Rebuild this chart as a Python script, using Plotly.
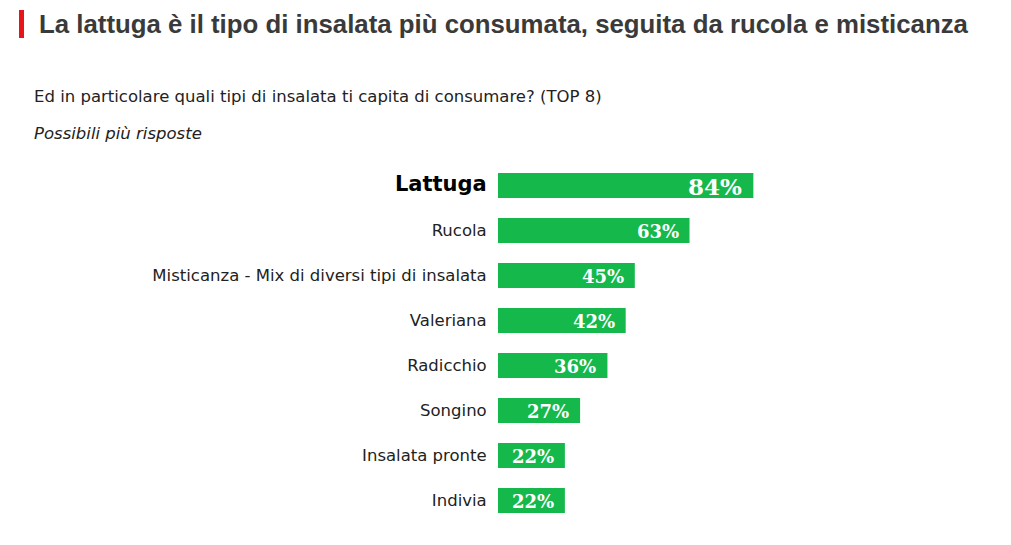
import plotly.graph_objects as go

categories = ["Lattuga", "Rucola", "Misticanza - Mix di diversi tipi di insalata", "Valeriana",
              "Radicchio", "Songino", "Insalata pronte", "Indivia"]
values = [84, 63, 45, 42, 36, 27, 22, 22]

BAR = "#14b84b"
W, H = 1011, 545
OFF = 8  # page body margin
L, R, T = 498 - OFF, 209, 163 - OFF
PW = 304
R = W - L - PW
PH = 360
B = H - T - PH

def px(x):
    return (x - OFF - L) / PW

def py(y):
    return (T + PH - (y - OFF)) / PH

ticktext = []
for i, c in enumerate(categories):
    if i == 0:
        ticktext.append("<span style='font-size:21px;color:#000'><b>%s</b></span>" % c)
    else:
        ticktext.append(c)

fig = go.Figure(go.Bar(
    y=categories, x=values, orientation="h",
    marker=dict(color=BAR, line=dict(width=0)),
    width=0.56, hoverinfo="skip",
))

annotations = []
for i, (c, v) in enumerate(zip(categories, values)):
    annotations.append(dict(
        x=v, y=c, xref="x", yref="y", text="<b>%d%%</b>" % v,
        xanchor="right", yanchor="middle", showarrow=False,
        xshift=-9, yshift=-1,
        font=dict(family="DejaVu Serif", size=23 if i == 0 else 18, color="white"),
    ))

annotations += [
    dict(x=px(32), y=py(96), xref="paper", yref="paper", xanchor="left", yanchor="middle",
         text="Ed in particolare quali tipi di insalata ti capita di consumare? (TOP 8)",
         showarrow=False, font=dict(family="DejaVu Sans", size=16.5, color="#222")),
    dict(x=px(32), y=py(133), xref="paper", yref="paper", xanchor="left", yanchor="middle",
         text="<i>Possibili più risposte</i>",
         showarrow=False, font=dict(family="DejaVu Sans", size=16.5, color="#222")),
    dict(x=px(37), y=py(24), xref="paper", yref="paper", xanchor="left", yanchor="middle",
         text="<b>La lattuga è il tipo di insalata più consumata, seguita da rucola e misticanza</b>",
         showarrow=False, font=dict(family="Liberation Sans, Arial", size=25.8, color="#3a3a3a")),
]

fig.update_layout(
    width=W, height=H,
    margin=dict(l=L, r=R, t=T, b=B, pad=0),
    paper_bgcolor="white", plot_bgcolor="white",
    showlegend=False,
    xaxis=dict(range=[0, 100], visible=False, fixedrange=True),
    yaxis=dict(
        autorange=False, range=[7.5, -0.5],
        tickmode="array", tickvals=categories, ticktext=ticktext,
        ticks="outside", ticklen=7, tickcolor="rgba(0,0,0,0)",
        showgrid=False, zeroline=False, showline=False,
        tickfont=dict(family="DejaVu Sans", size=16.5, color="#222"),
        fixedrange=True,
    ),
    annotations=annotations,
    shapes=[dict(type="rect", xref="paper", yref="paper",
                 x0=px(19), x1=px(24), y0=py(10), y1=py(38),
                 fillcolor="#e8141b", line=dict(width=0))],
)

fig.write_html("out.html")
